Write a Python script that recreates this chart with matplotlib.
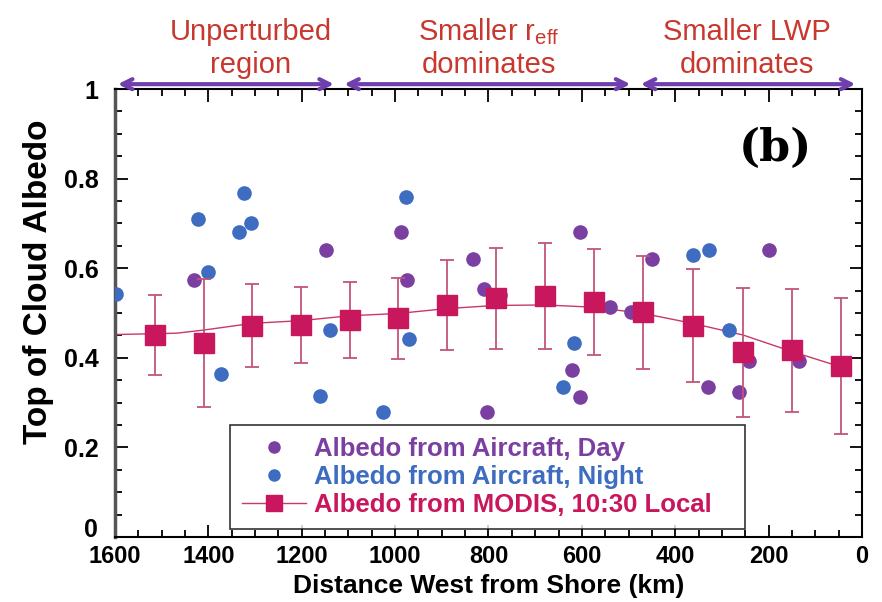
import matplotlib
matplotlib.use("Agg")
import matplotlib.pyplot as plt
from matplotlib.lines import Line2D
from matplotlib.ticker import MultipleLocator, FixedLocator

# aircraft albedo, daytime flights
day_x = [1431, 1147, 987, 974, 834, 810, 804, 775, 604, 540, 494, 450, 622, 604, 329, 263, 243, 199, 135]
day_y = [0.573, 0.641, 0.681, 0.573, 0.621, 0.553, 0.280, 0.540, 0.681, 0.514, 0.502, 0.621,
         0.373, 0.313, 0.334, 0.324, 0.394, 0.641, 0.394]

# aircraft albedo, night flights
night_x = [1598, 1423, 1400, 1373, 1334, 1323, 1309, 1161, 1139, 1027, 977, 970, 640, 616, 363, 327, 285]
night_y = [0.542, 0.710, 0.591, 0.365, 0.681, 0.769, 0.700, 0.314, 0.462, 0.280, 0.759, 0.443,
           0.335, 0.432, 0.629, 0.641, 0.462]

# MODIS binned means and spread
modis_x = [1515, 1410, 1306, 1202, 1097, 994, 889, 783, 679, 574, 468, 363, 255, 150, 46]
modis_y = [0.451, 0.434, 0.472, 0.474, 0.484, 0.488, 0.518, 0.533, 0.538, 0.525, 0.502, 0.472,
           0.412, 0.417, 0.382]
modis_err = [0.090, 0.143, 0.092, 0.085, 0.085, 0.090, 0.100, 0.113, 0.118, 0.118, 0.126, 0.126,
             0.143, 0.137, 0.152]

# smoothed MODIS trend
fit_x = [1600, 1468, 1410, 1306, 1202, 1097, 994, 889, 784, 679, 574, 468, 363, 255, 150, 46]
fit_y = [0.452, 0.455, 0.462, 0.477, 0.483, 0.494, 0.499, 0.510, 0.517, 0.518, 0.513, 0.499,
         0.477, 0.451, 0.414, 0.380]

# regime annotations above the axes
region_bounds = [(1600, 1125), (1115, 490), (480, 8)]
region_top = ["Unperturbed", "Smaller r$_\\mathregular{eff}$", "Smaller LWP"]
region_bottom = ["region", "dominates", "dominates"]
region_center = [1310, 800, 246]

purple = "#7b3fa2"
blue = "#3d6cc0"
crimson = "#c8175d"
bar_col = "#c35478"
arrow_col = "#6f3fae"
note_col = "#c8382e"

plt.rcParams["font.family"] = ["Liberation Sans", "DejaVu Sans"]

fig = plt.figure(figsize=(8.82, 6.02), dpi=100)
ax = fig.add_axes([0.1304, 0.108, 0.8469, 0.744])

ax.plot(fit_x, fit_y, color="#c8386a", lw=1.0, zorder=2)
ax.errorbar(modis_x, modis_y, yerr=modis_err, fmt="s", color=crimson, ms=14,
            ecolor=bar_col, elinewidth=1.3, capsize=5, capthick=1.3, zorder=4)
ax.plot(day_x, day_y, "o", color=purple, ms=9.5, zorder=3, ls="none")
ax.plot(night_x, night_y, "o", color=blue, ms=9.5, zorder=3, ls="none")

ax.set_xlim(1600, 0)
ax.set_ylim(0, 1)
ax.xaxis.set_major_locator(MultipleLocator(200))
ax.xaxis.set_minor_locator(MultipleLocator(50))
ax.yaxis.set_major_locator(FixedLocator([0, 0.2, 0.4, 0.6, 0.8, 1.0]))
ax.yaxis.set_minor_locator(MultipleLocator(0.05))
ax.tick_params(which="both", direction="in", top=True, right=True, width=1.3)
ax.tick_params(which="major", length=9)
ax.tick_params(which="minor", length=5)
ax.tick_params(axis="x", which="major", labelsize=17, pad=6)
ax.tick_params(axis="y", which="major", labelsize=18, pad=12)
ylabs = ax.set_yticklabels(["0", "0.2", "0.4", "0.6", "0.8", "1"])
ylabs[0].set_va("baseline")
for lab in ax.get_xticklabels() + ax.get_yticklabels():
    lab.set_fontweight("bold")

for side in ["top", "right", "bottom"]:
    ax.spines[side].set_linewidth(1.5)
ax.spines["left"].set_linewidth(2.5)
ax.spines["left"].set_color("#555555")

ax.set_xlabel("Distance West from Shore (km)", fontsize=19, fontweight="bold", labelpad=4)
ax.set_ylabel("Top of Cloud Albedo", fontsize=24, fontweight="bold")
ax.yaxis.set_label_coords(-0.082, 0.57)

ax.text(186, 0.868, "(b)", fontsize=32, fontweight="bold", family="DejaVu Serif",
        ha="center", va="center")

trans = ax.get_xaxis_transform()
for (x0, x1), top, bottom, xc in zip(region_bounds, region_top, region_bottom, region_center):
    ax.annotate("", xy=(x0, 1.011), xytext=(x1, 1.011), xycoords=trans, textcoords=trans,
                arrowprops=dict(arrowstyle="<->", color=arrow_col, lw=3.0, mutation_scale=18),
                annotation_clip=False)
    ax.text(xc, 1.11, top, transform=trans, ha="center", va="baseline", fontsize=21,
            color=note_col, clip_on=False)
    ax.text(xc, 1.036, bottom, transform=trans, ha="center", va="baseline", fontsize=21,
            color=note_col, clip_on=False)

handles = [
    Line2D([], [], ls="none", marker="o", color=purple, ms=8),
    Line2D([], [], ls="none", marker="o", color=blue, ms=8),
    Line2D([], [], color="#c8386a", lw=1.0, marker="s", mfc=crimson, mec=crimson, ms=12),
]
labels = ["Albedo from Aircraft, Day", "Albedo from Aircraft, Night", "Albedo from MODIS, 10:30 Local"]
leg = ax.legend(handles, labels, loc="lower left", bbox_to_anchor=(0.154, 0.018, 0.689, 0.237),
                mode="expand", fontsize=18.5, frameon=True, fancybox=False, handlelength=2.5,
                handletextpad=0.3, labelspacing=0.17, borderpad=0.45, borderaxespad=0,
                numpoints=1)
leg.get_frame().set_edgecolor("black")
leg.get_frame().set_linewidth(1.2)
for txt, col in zip(leg.get_texts(), [purple, blue, crimson]):
    txt.set_color(col)
    txt.set_fontweight("bold")
leg.set_zorder(5)

fig.savefig("out.png", dpi=100)
